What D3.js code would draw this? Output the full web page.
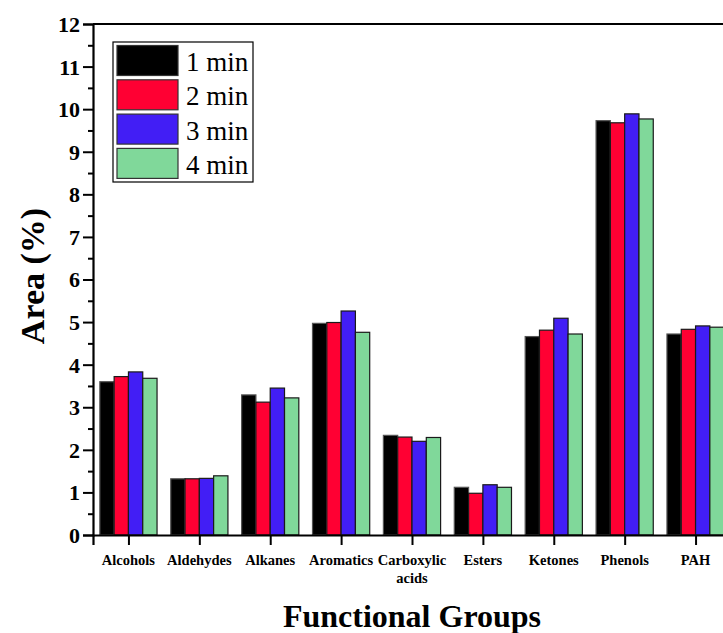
<!DOCTYPE html>
<html>
<head>
<meta charset="utf-8">
<script src="https://cdn.jsdelivr.net/npm/d3@7"></script>
<style>
  body { margin: 0; background: white; }
  svg { display: block; }
</style>
</head>
<body>
<div id="chart"></div>
<script>
const categories = ["Alcohols", "Aldehydes", "Alkanes", "Aromatics", "Carboxylic acids", "Esters", "Ketones", "Phenols", "PAH"];
const seriesNames = ["1 min", "2 min", "3 min", "4 min"];
const min1 = [3.60, 1.32, 3.29, 4.97, 2.34, 1.12, 4.66, 9.73, 4.72];
const min2 = [3.72, 1.32, 3.12, 4.99, 2.30, 0.98, 4.81, 9.68, 4.83];
const min3 = [3.83, 1.33, 3.45, 5.26, 2.20, 1.18, 5.09, 9.89, 4.91];
const min4 = [3.68, 1.39, 3.22, 4.76, 2.29, 1.12, 4.72, 9.77, 4.88];
const yTicks = [0, 1, 2, 3, 4, 5, 6, 7, 8, 9, 10, 11, 12];
const colors = ["#000000", "#ff0033", "#421ef5", "#80d89a"];

const seriesValues = [min1, min2, min3, min4];
const table = categories.map((c, i) => ({
    category: c,
    values: seriesNames.map((s, j) => ({ series: s, value: seriesValues[j][i] }))
}));

const w = 723;
const h = 633;
const padLeft = 93;
const padRight = 731;
const padTop = 24;
const padBottom = 535;
const serif = "'Liberation Serif', 'Times New Roman', serif";

const svg = d3.select("#chart")
              .append("svg")
              .attr("width", w)
              .attr("height", h)
              .style("background", "white");

const xScale = d3.scalePoint()
                 .domain(categories)
                 .range([padLeft, padRight])
                 .padding(0.5);

const inner = d3.scaleBand()
                .domain(seriesNames)
                .range([-28.6, 28.6]);

const yScale = d3.scaleLinear()
                 .domain([0, 12])
                 .range([padBottom, padTop]);

// bars
const groups = svg.selectAll("g.group")
   .data(table)
   .enter()
   .append("g")
   .attr("class", "group")
   .attr("transform", d => "translate(" + xScale(d.category) + ",0)");

groups.selectAll("rect")
   .data(d => d.values)
   .enter()
   .append("rect")
   .attr("x", d => inner(d.series))
   .attr("y", d => yScale(d.value))
   .attr("width", inner.bandwidth())
   .attr("height", d => padBottom - yScale(d.value))
   .attr("fill", (d, i) => colors[i])
   .attr("stroke", (d, i) => i == 0 ? "#555" : "#1a1a1a")
   .attr("stroke-width", 1.2);

// y axis: majors and minors
const yAxis = d3.axisLeft(yScale)
                .tickValues(yTicks)
                .tickSize(10)
                .tickPadding(3)
                .tickFormat(d3.format("d"));

const yMinor = d3.axisLeft(yScale)
                 .tickValues(d3.range(0.5, 12, 1))
                 .tickSize(5)
                 .tickFormat("");

const gy = svg.append("g")
   .attr("transform", "translate(" + padLeft + ",0)")
   .call(yAxis);
gy.selectAll("text")
  .attr("font-size", 22)
  .attr("font-weight", "bold")
  .attr("fill", "black")
  .attr("dy", "0.34em");

svg.append("g")
   .attr("transform", "translate(" + padLeft + ",0)")
   .call(yMinor)
   .select(".domain").remove();

// x axis
const xAxis = d3.axisBottom(xScale).tickSize(10).tickFormat("");
svg.append("g")
   .attr("transform", "translate(0," + padBottom + ")")
   .call(xAxis);

svg.selectAll(".tick line")
   .attr("stroke", "black")
   .attr("stroke-width", 2);
svg.selectAll(".domain")
   .attr("stroke", "black")
   .attr("stroke-width", 2.2);

// top frame line
svg.append("line")
   .attr("x1", padLeft).attr("x2", padRight)
   .attr("y1", padTop).attr("y2", padTop)
   .attr("stroke", "black")
   .attr("stroke-width", 2.2);

// category labels
categories.forEach(c => {
    const lines = c.split(" ");
    const t = svg.append("text")
       .attr("x", xScale(c))
       .attr("y", 565)
       .attr("text-anchor", "middle")
       .style("font-size", "14.5px")
       .style("font-weight", "bold");
    lines.forEach((l, k) => {
        t.append("tspan")
         .attr("x", xScale(c))
         .attr("dy", k == 0 ? 0 : 18)
         .text(l);
    });
});

// axis titles
svg.append("text")
   .attr("x", 412)
   .attr("y", 627)
   .attr("text-anchor", "middle")
   .style("font-size", "32px")
   .style("font-weight", "bold")
   .text("Functional Groups");

svg.append("text")
   .attr("transform", "translate(44," + 276 + ") rotate(-90)")
   .attr("text-anchor", "middle")
   .style("font-size", "34px")
   .style("font-weight", "bold")
   .text("Area (%)");

// legend
const legend = svg.append("g").attr("transform", "translate(113,42)");
legend.append("rect")
   .attr("width", 140)
   .attr("height", 140)
   .attr("fill", "white")
   .attr("stroke", "black")
   .attr("stroke-width", 1.2);

seriesNames.forEach((s, i) => {
    legend.append("rect")
       .attr("x", 4)
       .attr("y", 3.5 + i * 34.3)
       .attr("width", 61)
       .attr("height", 30)
       .attr("fill", colors[i])
       .attr("stroke", "#333")
       .attr("stroke-width", 1.2);
    legend.append("text")
       .attr("x", 73)
       .attr("y", 29 + i * 34.3)
       .style("font-size", "27px")
       .text(s);
});

// every label in Times-like serif
svg.selectAll("text").style("font-family", serif);
</script>
</body>
</html>
